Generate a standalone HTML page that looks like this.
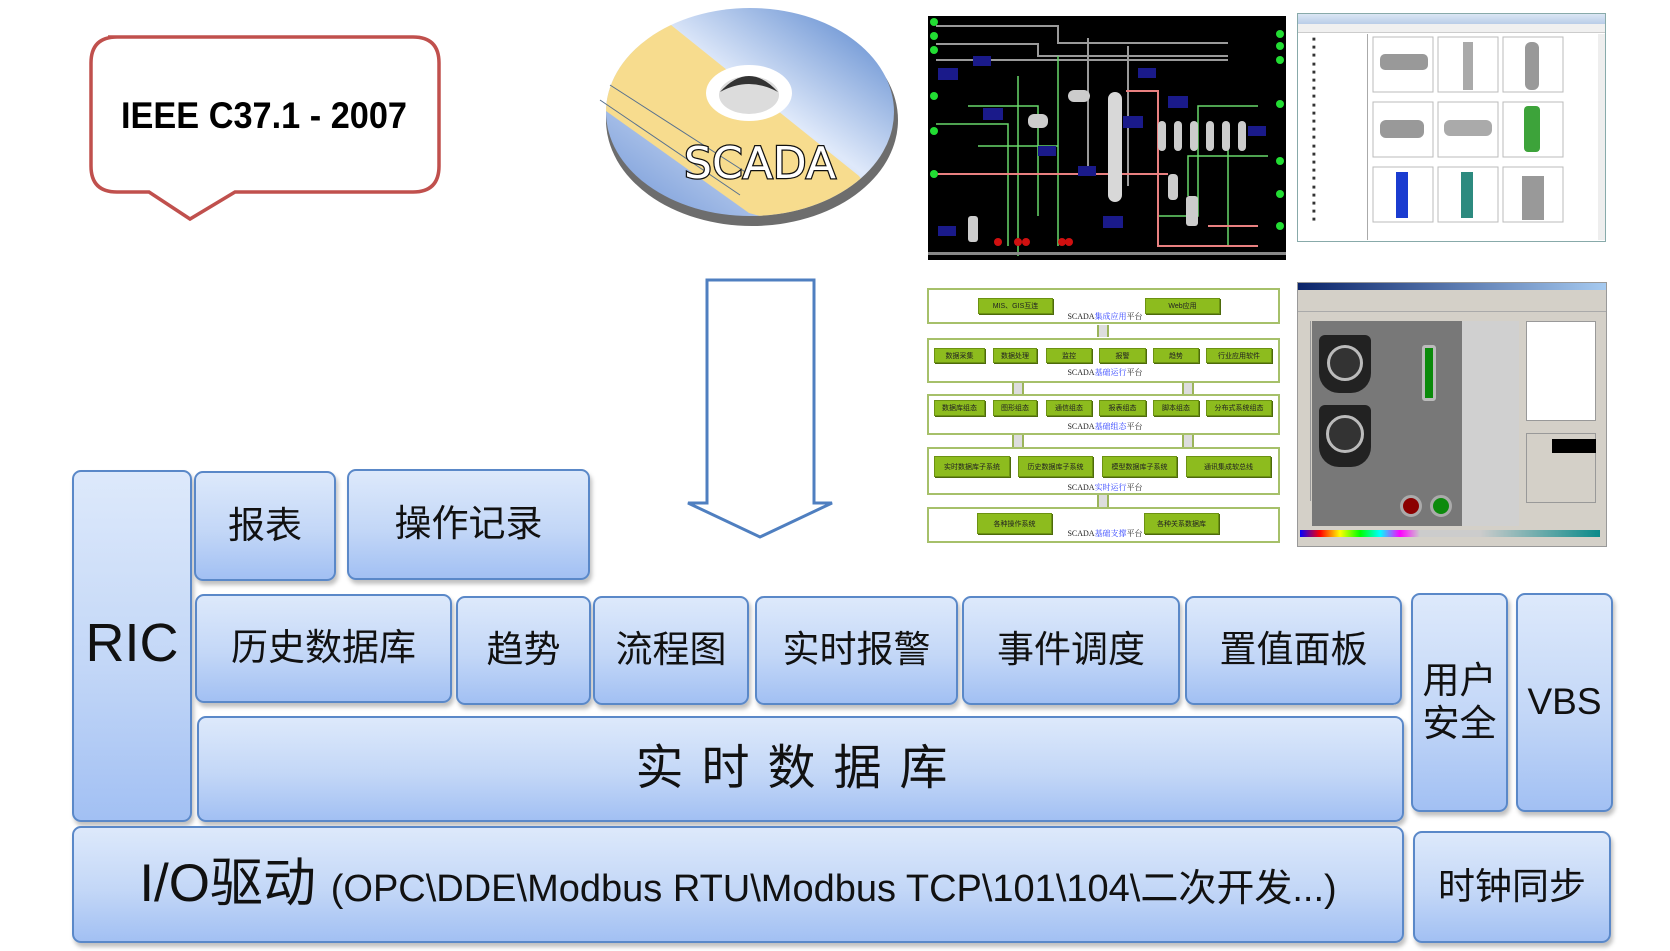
<!DOCTYPE html>
<html><head><meta charset="utf-8"><style>
*{margin:0;padding:0;box-sizing:border-box}
body{width:1670px;height:951px;background:#fff;position:relative;overflow:hidden;font-family:"Liberation Sans","Noto Sans CJK SC",sans-serif}
.b{position:absolute;border:2px solid #5a88c8;border-radius:9px;background:linear-gradient(#dde9fb,#c3d7f7 55%,#a2c0f3);box-shadow:2px 4px 4px rgba(0,0,0,.25);display:flex;align-items:center;justify-content:center;color:#111;font-size:37px;text-align:center;line-height:1.15}
.ab{position:absolute}
.g{position:absolute;background:#8dbc1e;border:1px solid #6c9212;box-shadow:1px 1px 0 #4d6a0b;font-size:7px;color:#222;display:flex;align-items:center;justify-content:center;white-space:nowrap}
.row{position:absolute;left:927px;width:353px;border:2px solid #a6c06a;background:#fff}
.lbl{position:absolute;font-family:"Liberation Serif","Noto Serif CJK SC",serif;font-size:8px;color:#222;white-space:nowrap;transform:translateX(-50%)}
.lbl span{color:#2a3cff}
.cn{position:absolute;width:12px;height:12px;background:#ddd;border-left:2px solid #9bb45a;border-right:2px solid #9bb45a}
</style></head><body>

<!-- callout -->
<svg class="ab" style="left:0;top:0" width="460" height="230">
<path d="M108,37 H413 Q439,37 439,63 V166 Q439,192 413,192 H235 L190,219 L149,192 H117 Q91,192 91,166 V63 Q91,37 117,37 Z" fill="#fff" stroke="#c0504d" stroke-width="3.5"/>
<text x="121" y="128" textLength="286" lengthAdjust="spacingAndGlyphs" font-family="Liberation Sans" font-weight="bold" font-size="37" fill="#000">IEEE C37.1 - 2007</text>
</svg>

<!-- disc -->
<svg class="ab" style="left:590px;top:0" width="330" height="240">
<defs>
<linearGradient id="dg2" x1="1" y1="0" x2="0" y2="1"><stop offset="0" stop-color="#4f7fca"/><stop offset=".45" stop-color="#dfe9fa"/><stop offset="1" stop-color="#6f95d6"/></linearGradient>
<clipPath id="cp"><ellipse cx="160" cy="112" rx="144" ry="104"/></clipPath>
</defs>
<ellipse cx="162" cy="120" rx="146" ry="106" fill="#6d6d6d"/>
<ellipse cx="160" cy="112" rx="144" ry="104" fill="url(#dg2)"/>
<polygon clip-path="url(#cp)" points="81,25 -40,40 -10,120 16,111 159,213 330,260 269,176" fill="#f7dc8e"/>
<ellipse cx="159" cy="93" rx="43" ry="28" fill="#fff"/>
<ellipse cx="159" cy="95" rx="30" ry="19" fill="#dcdcdc"/>
<path d="M130,92 Q159,60 188,92 Q159,76 130,92Z" fill="#333"/>
<line x1="20" y1="85" x2="160" y2="175" stroke="#56708f" stroke-width="1"/>
<line x1="10" y1="100" x2="150" y2="195" stroke="#56708f" stroke-width="1"/>
<text x="170" y="178" text-anchor="middle" font-family="DejaVu Sans" font-size="44" fill="#fff" stroke="#111" stroke-width="2.5" paint-order="stroke">SCADA</text>
</svg>

<!-- black screenshot -->
<svg class="ab" style="left:928px;top:16px" width="358" height="244">
<rect width="358" height="244" fill="#000"/>
<g stroke="#9a9a9a" stroke-width="2" fill="none">
<path d="M8,10 H130 V27 H300"/><path d="M8,28 H110 V40 H300"/><path d="M8,44 H300"/>
<path d="M160,22 V160"/><path d="M200,30 V170"/>
</g>
<g stroke="#69d86a" stroke-width="1.5" fill="none">
<path d="M8,108 H80 V230"/><path d="M40,90 H110 V200"/><path d="M90,60 V240"/><path d="M130,40 V230"/>
<path d="M230,200 H270 V90 H330"/><path d="M260,180 V140 H340"/><path d="M300,110 V230"/><path d="M50,130 H130"/>
</g>
<g stroke="#e88080" stroke-width="2" fill="none">
<path d="M8,158 H240"/><path d="M198,75 H230 V160"/><path d="M230,160 V230 H330"/><path d="M280,210 H330"/>
</g>
<rect x="180" y="76" width="14" height="110" rx="7" fill="#d8d8d8"/>
<g fill="#ccc"><rect x="230" y="105" width="8" height="30" rx="4"/><rect x="246" y="105" width="8" height="30" rx="4"/><rect x="262" y="105" width="8" height="30" rx="4"/><rect x="278" y="105" width="8" height="30" rx="4"/><rect x="294" y="105" width="8" height="30" rx="4"/><rect x="310" y="105" width="8" height="30" rx="4"/>
<rect x="100" y="98" width="20" height="14" rx="6"/><rect x="140" y="74" width="22" height="12" rx="6"/><rect x="240" y="158" width="10" height="26" rx="4"/><rect x="258" y="180" width="12" height="30" rx="3"/><rect x="40" y="200" width="10" height="26" rx="3"/></g>
<g fill="#1a1a8a"><rect x="10" y="52" width="20" height="12"/><rect x="45" y="40" width="18" height="10"/><rect x="55" y="92" width="20" height="12"/><rect x="210" y="52" width="18" height="10"/><rect x="195" y="100" width="20" height="12"/><rect x="110" y="130" width="18" height="10"/><rect x="240" y="80" width="20" height="12"/><rect x="150" y="150" width="18" height="10"/><rect x="175" y="200" width="20" height="12"/><rect x="10" y="210" width="18" height="10"/><rect x="320" y="110" width="18" height="10"/></g>
<g fill="#22dd33"><circle cx="6" cy="6" r="4"/><circle cx="6" cy="20" r="4"/><circle cx="6" cy="34" r="4"/><circle cx="6" cy="80" r="4"/><circle cx="6" cy="115" r="4"/><circle cx="6" cy="158" r="4"/><circle cx="352" cy="18" r="4"/><circle cx="352" cy="30" r="4"/><circle cx="352" cy="44" r="4"/><circle cx="352" cy="88" r="4"/><circle cx="352" cy="145" r="4"/><circle cx="352" cy="178" r="4"/><circle cx="352" cy="210" r="4"/></g>
<g fill="#d01010"><circle cx="70" cy="226" r="4"/><circle cx="90" cy="226" r="4"/><circle cx="98" cy="226" r="4"/><circle cx="134" cy="226" r="4"/><circle cx="141" cy="226" r="4"/></g>
<rect x="0" y="236" width="358" height="3" fill="#888"/>
</svg>

<!-- equipment window -->
<div class="ab" style="left:1297px;top:13px;width:309px;height:229px;background:#fff;border:1px solid #8aa;">
<div style="height:10px;background:linear-gradient(#dbe6f4,#b9cde8)"></div>
<div style="height:9px;background:#f0f0f0;border-bottom:1px solid #ccc"></div>
<div style="position:absolute;left:0;top:20px;width:70px;height:206px;background:#fff;border-right:1px solid #aaa;font-size:6px;line-height:8.2px;color:#333;padding:2px 0 0 14px">
■<br>■<br>■<br>■<br>■<br>■<br>■<br>■<br>■<br>■<br>■<br>■<br>■<br>■<br>■<br>■<br>■<br>■<br>■<br>■<br>■<br>■<br>■</div>
<svg style="position:absolute;left:74px;top:22px" width="220" height="200">
<g fill="none" stroke="#bbb"><rect x="1" y="1" width="60" height="55"/><rect x="66" y="1" width="60" height="55"/><rect x="131" y="1" width="60" height="55"/><rect x="1" y="66" width="60" height="55"/><rect x="66" y="66" width="60" height="55"/><rect x="131" y="66" width="60" height="55"/><rect x="1" y="131" width="60" height="55"/><rect x="66" y="131" width="60" height="55"/><rect x="131" y="131" width="60" height="55"/></g>
<rect x="8" y="18" width="48" height="16" rx="5" fill="#999"/><rect x="91" y="6" width="10" height="48" fill="#aaa"/><rect x="153" y="6" width="14" height="48" rx="6" fill="#999"/>
<rect x="8" y="84" width="44" height="18" rx="6" fill="#999"/><rect x="72" y="84" width="48" height="16" rx="6" fill="#aaa"/><rect x="152" y="70" width="16" height="46" rx="4" fill="#3da33a"/>
<rect x="24" y="136" width="12" height="46" fill="#1a3cd0"/><rect x="89" y="136" width="12" height="46" fill="#2d8a7f"/><rect x="150" y="140" width="22" height="44" fill="#999"/>
</svg>
<div style="position:absolute;right:0;top:20px;width:7px;height:206px;background:#eee"></div>
</div>

<!-- arrow -->
<svg class="ab" style="left:680px;top:275px" width="160" height="270">
<path d="M27,5 H134 V228 H152 L80,262 L8,228 H27 Z" fill="#fff" stroke="#4f7fc0" stroke-width="3"/>
</svg>

<!-- scada diagram -->
<div class="row" style="top:288px;height:36px"></div>
<div class="g" style="left:978px;top:298px;width:75px;height:16px">MIS、GIS互连</div>
<div class="g" style="left:1145px;top:298px;width:75px;height:16px">Web应用</div>
<div class="lbl" style="left:1105px;top:311px">SCADA<span>集成应用</span>平台</div>
<div class="cn" style="left:1097px;top:325px"></div>

<div class="row" style="top:338px;height:45px"></div>
<div class="g" style="left:934px;top:348px;width:51px;height:15px">数据采集</div>
<div class="g" style="left:993px;top:348px;width:44px;height:15px">数据处理</div>
<div class="g" style="left:1046px;top:348px;width:46px;height:15px">监控</div>
<div class="g" style="left:1099px;top:348px;width:47px;height:15px">报警</div>
<div class="g" style="left:1153px;top:348px;width:46px;height:15px">趋势</div>
<div class="g" style="left:1206px;top:348px;width:66px;height:15px">行业应用软件</div>
<div class="lbl" style="left:1105px;top:367px">SCADA<span>基础运行</span>平台</div>
<div class="cn" style="left:1012px;top:383px"></div><div class="cn" style="left:1182px;top:383px"></div>

<div class="row" style="top:394px;height:41px"></div>
<div class="g" style="left:934px;top:400px;width:51px;height:16px">数据库组态</div>
<div class="g" style="left:993px;top:400px;width:44px;height:16px">图形组态</div>
<div class="g" style="left:1046px;top:400px;width:46px;height:16px">通信组态</div>
<div class="g" style="left:1099px;top:400px;width:47px;height:16px">报表组态</div>
<div class="g" style="left:1153px;top:400px;width:46px;height:16px">脚本组态</div>
<div class="g" style="left:1206px;top:400px;width:66px;height:16px">分布式系统组态</div>
<div class="lbl" style="left:1105px;top:421px">SCADA<span>基础组态</span>平台</div>
<div class="cn" style="left:1012px;top:435px"></div><div class="cn" style="left:1182px;top:435px"></div>

<div class="row" style="top:447px;height:48px"></div>
<div class="g" style="left:934px;top:456px;width:76px;height:21px">实时数据库子系统</div>
<div class="g" style="left:1018px;top:456px;width:75px;height:21px">历史数据库子系统</div>
<div class="g" style="left:1102px;top:456px;width:75px;height:21px">模型数据库子系统</div>
<div class="g" style="left:1186px;top:456px;width:85px;height:21px">通讯集成软总线</div>
<div class="lbl" style="left:1105px;top:482px">SCADA<span>实时运行</span>平台</div>
<div class="cn" style="left:1097px;top:495px"></div>

<div class="row" style="top:507px;height:36px"></div>
<div class="g" style="left:977px;top:513px;width:75px;height:21px">各种操作系统</div>
<div class="g" style="left:1144px;top:513px;width:75px;height:21px">各种关系数据库</div>
<div class="lbl" style="left:1105px;top:528px">SCADA<span>基础支撑</span>平台</div>

<!-- editor screenshot -->
<div class="ab" style="left:1297px;top:282px;width:310px;height:265px;background:#d4d0c8;border:1px solid #999;overflow:hidden">
<div style="height:7px;background:linear-gradient(90deg,#0a246a,#a6caf0)"></div>
<div style="height:22px;border-bottom:1px solid #aaa;background:#d4d0c8"></div>
<div style="position:absolute;left:0;top:38px;width:13px;height:180px;background:#d4d0c8;border-right:1px solid #999"></div>
<div style="position:absolute;left:14px;top:38px;width:150px;height:205px;background:#787878">
 <div style="position:absolute;left:7px;top:14px;width:52px;height:58px;background:#222;border-radius:6px 6px 20px 20px"><div style="margin:10px auto;width:36px;height:36px;border-radius:50%;border:3px solid #bbb;background:#333"></div></div>
 <div style="position:absolute;left:7px;top:84px;width:52px;height:62px;background:#222;border-radius:6px 6px 20px 20px"><div style="margin:10px auto;width:38px;height:38px;border-radius:50%;border:3px solid #bbb;background:#333"></div></div>
 <div style="position:absolute;left:110px;top:24px;width:14px;height:56px;background:#0a8a0a;border:3px solid #bbb;border-radius:3px"></div>
 <div style="position:absolute;left:88px;top:174px;width:22px;height:22px;border-radius:50%;background:#8b0000;border:3px solid #aaa"></div>
 <div style="position:absolute;left:118px;top:174px;width:22px;height:22px;border-radius:50%;background:#0c8a0c;border:3px solid #aaa"></div>
</div>
<div style="position:absolute;left:164px;top:38px;width:57px;height:205px;background:#d0d0d0"></div>
<div style="position:absolute;left:228px;top:38px;width:70px;height:100px;background:#fff;border:1px solid #999"></div>
<div style="position:absolute;left:228px;top:150px;width:70px;height:70px;background:#d4d0c8;border:1px solid #999"><div style="margin:5px 0 0 25px;width:44px;height:14px;background:#000"></div></div>
<div style="position:absolute;left:2px;top:247px;width:300px;height:7px;background:linear-gradient(90deg,#00f,#f00,#ff0,#0f0,#0ff,#f0f,#ccc 40%,#ccc 60%,#0a8a8a)"></div>
</div>

<!-- blocks -->
<div class="b" style="left:72px;top:470px;width:120px;height:352px;align-items:flex-start;padding-top:140px;font-size:54px">RIC</div>
<div class="b" style="left:194px;top:471px;width:142px;height:110px">报表</div>
<div class="b" style="left:347px;top:469px;width:243px;height:111px">操作记录</div>
<div class="b" style="left:195px;top:594px;width:257px;height:109px">历史数据库</div>
<div class="b" style="left:456px;top:596px;width:135px;height:109px">趋势</div>
<div class="b" style="left:593px;top:596px;width:156px;height:109px">流程图</div>
<div class="b" style="left:755px;top:596px;width:203px;height:109px">实时报警</div>
<div class="b" style="left:962px;top:596px;width:218px;height:109px">事件调度</div>
<div class="b" style="left:1185px;top:596px;width:217px;height:109px">置值面板</div>
<div class="b" style="left:197px;top:716px;width:1207px;height:106px;font-size:48px;letter-spacing:18px">实时数据库</div>
<div class="b" style="left:1411px;top:593px;width:97px;height:219px">用户<br>安全</div>
<div class="b" style="left:1516px;top:593px;width:97px;height:219px">VBS</div>
<div class="b" style="left:72px;top:826px;width:1332px;height:117px;font-size:53px"><span>I/O驱动 <span style="font-size:38px">(OPC\DDE\Modbus RTU\Modbus TCP\101\104\二次开发...)</span></span></div>
<div class="b" style="left:1413px;top:831px;width:198px;height:112px">时钟同步</div>
</body></html>
